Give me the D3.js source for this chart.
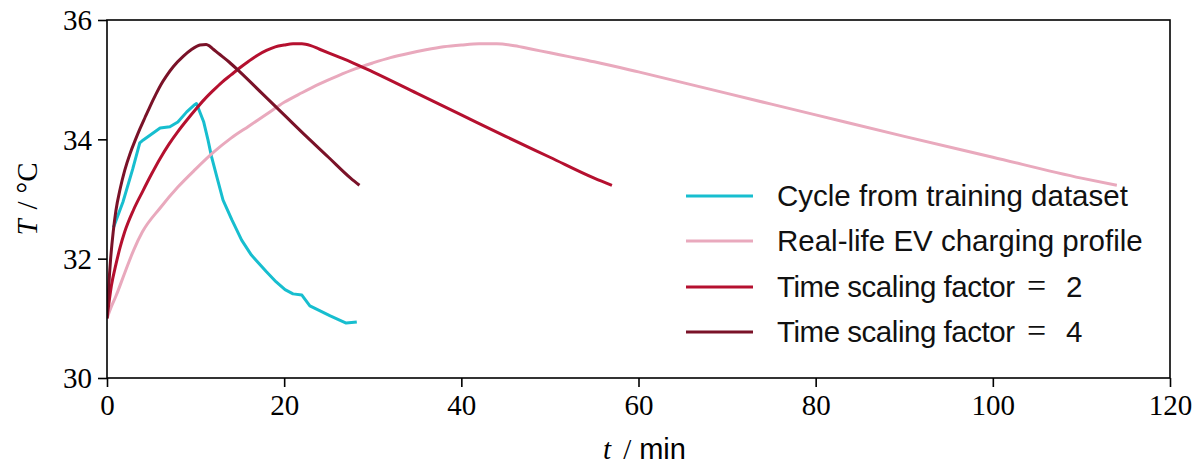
<!DOCTYPE html>
<html>
<head>
<meta charset="utf-8">
<script src="https://cdn.jsdelivr.net/npm/d3@7"></script>
<style>
  html, body { margin: 0; padding: 0; background: #fff; }
  svg { display: block; }
</style>
</head>
<body>
<svg id="chart" width="1203" height="470"></svg>
<script>
// ---- Data ----
const xTicks = [0, 20, 40, 60, 80, 100, 120];
const yTicks = [30, 32, 34, 36];

const legendBase = [
  "Cycle from training dataset",
  "Real-life EV charging profile",
  "Time scaling factor",
  "Time scaling factor"
];
const legendFactor = [null, null, "2", "4"];

const cycleT = [0.72, 1.8, 2.9, 3.7, 4.1, 6.0, 7.1, 8.0, 9.0, 9.9, 10.1, 10.9, 11.4, 11.8, 12.4, 13.1, 14.1, 15.2, 16.3, 18.0, 19.1, 20.1, 21.0, 22.0, 22.9, 24.0, 25.2, 27.0, 28.2];
const cycleV = [32.52, 32.95, 33.5, 33.94, 33.99, 34.19, 34.21, 34.29, 34.46, 34.58, 34.6, 34.3, 33.99, 33.71, 33.37, 32.98, 32.65, 32.31, 32.06, 31.78, 31.61, 31.48, 31.41, 31.39, 31.21, 31.13, 31.04, 30.92, 30.94];

const realT = [0, 0.5, 1, 2, 3, 4, 6, 8, 10, 12, 14, 16, 18, 20, 22, 24, 26, 28, 30, 32, 34, 36, 38, 40, 42, 44, 46, 48, 50, 52, 55, 60, 70, 80, 90, 100, 110, 114];
const realV = [31.0, 31.2, 31.37, 31.76, 32.14, 32.45, 32.85, 33.2, 33.5, 33.78, 34.02, 34.22, 34.42, 34.62, 34.78, 34.93, 35.06, 35.18, 35.28, 35.37, 35.44, 35.5, 35.55, 35.58, 35.6, 35.6, 35.57, 35.51, 35.45, 35.39, 35.3, 35.13, 34.77, 34.41, 34.05, 33.7, 33.35, 33.23];

const scale2T = [0, 0.5, 1, 1.5, 2, 3, 4, 5, 6, 7, 8, 9, 10, 11, 12, 13, 14, 15, 16, 17, 18, 19, 20, 21, 22, 23, 24, 25, 26, 27.5, 30, 35, 40, 45, 50, 55, 57];
const scale2V = [31.0, 31.55, 31.9, 32.2, 32.45, 32.82, 33.12, 33.41, 33.68, 33.92, 34.13, 34.32, 34.5, 34.67, 34.82, 34.96, 35.08, 35.2, 35.31, 35.41, 35.49, 35.55, 35.58, 35.6, 35.6, 35.57, 35.51, 35.45, 35.39, 35.3, 35.13, 34.77, 34.41, 34.05, 33.7, 33.35, 33.23];

const scale4T = [0, 0.2, 0.4, 0.7, 1, 1.5, 2, 2.6, 3.2, 3.7, 4.3, 4.85, 5.5, 6.1, 6.7, 7.5, 8.6, 9.5, 10.5, 11.2, 11.6, 12, 12.5, 13, 13.75, 15, 17.5, 20, 22.5, 25, 27.5, 28.5];
const scale4V = [31.0, 31.55, 31.98, 32.45, 32.8, 33.18, 33.48, 33.76, 33.99, 34.17, 34.37, 34.55, 34.75, 34.92, 35.06, 35.22, 35.39, 35.5, 35.58, 35.59, 35.56, 35.51, 35.45, 35.39, 35.3, 35.13, 34.77, 34.41, 34.05, 33.7, 33.35, 33.23];

const colors = ["#17becf", "#e9a9bd", "#b5102f", "#7a1228"];

// ---- Layout ----
const W = 1203, H = 470;
const margin = { left: 107, right: W - 1170, top: 20, bottom: H - 378 };
const svg = d3.select("#chart");
const x = d3.scaleLinear().domain([0, 120]).range([margin.left, W - margin.right]);
const y = d3.scaleLinear().domain([30, 36]).range([H - margin.bottom, margin.top]);

const serif = "'Liberation Serif', 'DejaVu Serif', serif";
const sans = "'Liberation Sans', Arial, sans-serif";

// ---- Lines ----
const series = [
  { t: cycleT, v: cycleV },
  { t: realT, v: realV },
  { t: scale2T, v: scale2V },
  { t: scale4T, v: scale4V }
];
const line = d3.line().x(d => x(d[0])).y(d => y(d[1])).curve(d3.curveMonotoneX);
const lineLin = d3.line().x(d => x(d[0])).y(d => y(d[1]));

svg.append("clipPath").attr("id", "plotclip").append("rect")
  .attr("x", x(0)).attr("y", y(36)).attr("width", x(120) - x(0)).attr("height", y(30) - y(36));

series.forEach((s, i) => {
  const pts = s.t.map((t, j) => [t, s.v[j]]);
  svg.append("path")
    .attr("d", i === 0 ? lineLin(pts) : line(pts))
    .attr("fill", "none")
    .attr("stroke", colors[i])
    .attr("stroke-width", 3)
    .attr("stroke-linejoin", "round")
    .attr("clip-path", "url(#plotclip)");
});

// ---- Frame ----
svg.append("rect")
  .attr("x", x(0)).attr("y", y(36))
  .attr("width", x(120) - x(0)).attr("height", y(30) - y(36))
  .attr("fill", "none").attr("stroke", "#000").attr("stroke-width", 1.6);

// ---- Axes ----
const xAxis = d3.axisBottom(x).tickValues(xTicks).tickSize(9).tickPadding(6).tickFormat(d3.format("d"));
const yAxis = d3.axisLeft(y).tickValues(yTicks).tickSize(9).tickPadding(6).tickFormat(d3.format("d"));

const gx = svg.append("g").attr("transform", `translate(0,${y(30)})`).call(xAxis);
const gy = svg.append("g").attr("transform", `translate(${x(0)},0)`).call(yAxis);
[gx, gy].forEach(g => {
  g.select(".domain").remove();
  g.selectAll(".tick line").attr("stroke", "#000").attr("stroke-width", 1.6);
  g.selectAll(".tick text").attr("fill", "#000").style("font-family", serif).style("font-size", "29px");
});
gx.selectAll(".tick text").attr("dy", "0.75em");
gy.selectAll(".tick text").attr("dy", "0.34em");

// ---- Axis labels ----
const xl = svg.append("text")
  .attr("x", (x(0) + x(120)) / 2 + 6).attr("y", 459)
  .attr("text-anchor", "middle").style("font-size", "29px");
xl.append("tspan").style("font-family", serif).style("font-style", "italic").text("t");
xl.append("tspan").attr("dx", 12).style("font-family", serif).text("/");
xl.append("tspan").attr("dx", 8).style("font-family", sans).text("min");

const yl = svg.append("text")
  .attr("transform", `translate(37,${(y(30) + y(36)) / 2}) rotate(-90)`)
  .attr("text-anchor", "middle").style("font-size", "29px");
yl.append("tspan").style("font-family", serif).style("font-style", "italic").text("T");
yl.append("tspan").attr("dx", 10).style("font-family", serif).text("/");
yl.append("tspan").attr("dx", 8).style("font-family", serif).text("°C");

// ---- Legend ----
const legY = [196, 241, 287, 332];
const leg = svg.append("g");
legendBase.forEach((name, i) => {
  leg.append("line")
    .attr("x1", 686).attr("x2", 753)
    .attr("y1", legY[i]).attr("y2", legY[i])
    .attr("stroke", colors[i]).attr("stroke-width", 3);
  const t = leg.append("text")
    .attr("x", 777).attr("y", legY[i] + 10)
    .style("font-family", sans).style("font-size", "29.5px")
    .attr("fill", "#111");
  const base = t.append("tspan").text(name);
  if (legendFactor[i]) {
    base.attr("textLength", 238).attr("lengthAdjust", "spacing");
    t.append("tspan").attr("x", 1027).style("font-family", serif).style("font-size", "34px").text("=");
    t.append("tspan").attr("x", 1066).text(legendFactor[i]);
  }
});
</script>
</body>
</html>
